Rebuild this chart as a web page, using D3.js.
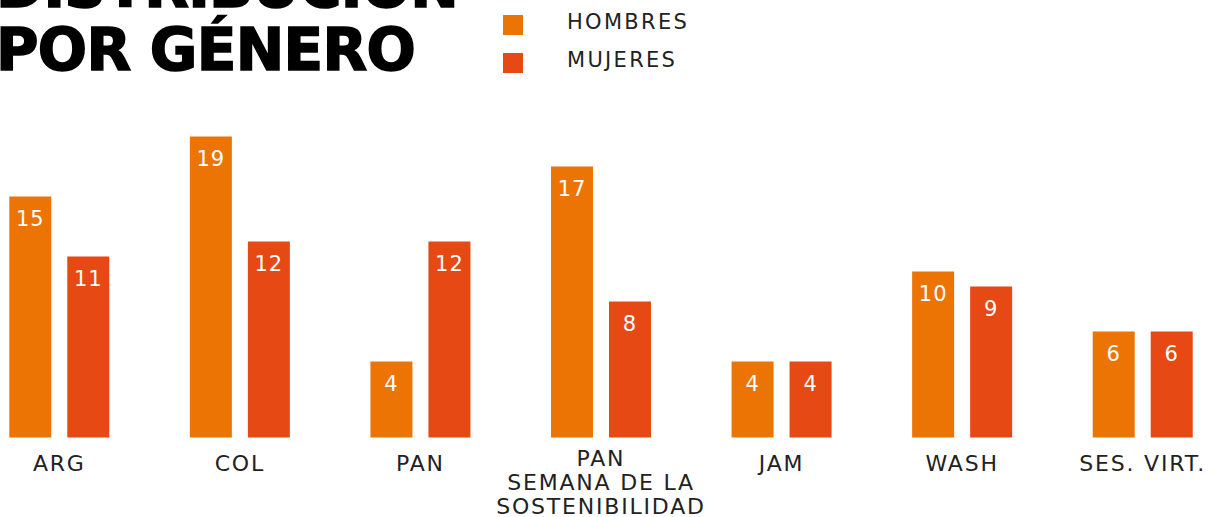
<!DOCTYPE html>
<html>
<head>
	<script src="https://cdn.jsdelivr.net/npm/d3@7"></script>
	<style>
		html, body {
			padding: 0;
			margin: 0;
			background: #ffffff;
		}
	</style>
</head>
<body>
	<script>
		// data
		var categories = ["ARG", "COL", "PAN", "PAN|SEMANA DE LA|SOSTENIBILIDAD", "JAM", "WASH", "SES. VIRT."];
		var hombres = [15, 19, 4, 17, 4, 10, 6];
		var mujeres = [11, 12, 12, 8, 4, 9, 6];
		var seriesNames = ["HOMBRES", "MUJERES"];
		var titleLines = ["DISTRIBUCIÓN", "POR GÉNERO"];

		var width = 1216, height = 517;
		var colors = {HOMBRES: "#ec7405", MUJERES: "#e64914"};
		var baseline = 437.5;

		var svg = d3.select("body").append("svg")
			.attr("width", width)
			.attr("height", height);

		//////// SCALES ////////
		var x = d3.scaleBand()
			.domain(categories)
			.range([-31, 1233])
			.padding(0);

		var xInner = d3.scaleBand()
			.domain(seriesNames)
			.range([-50, 50])
			.paddingInner(0.276)
			.paddingOuter(0);

		// the drawing isn't strictly proportional, so the scale keeps a small offset at zero
		var y = d3.scaleLinear()
			.domain([0, 20])
			.range([baseline - 16, baseline - 316]);

		//////// TITLE ////////
		svg.append("g").selectAll("text")
			.data(titleLines)
			.join("text")
			.attr("x", -4)
			.attr("y", function(d, i) { return 7 + i * 63; })
			.attr("font-family", "DejaVu Sans")
			.attr("font-weight", "bold")
			.attr("font-size", 58)
			.attr("letter-spacing", -0.7)
			.attr("fill", "#000")
			.attr("stroke", "#000")
			.attr("stroke-width", 1.6)
			.text(function(d) { return d; });

		//////// LEGEND ////////
		var legend = svg.append("g").selectAll("g")
			.data(seriesNames)
			.join("g")
			.attr("transform", function(d, i) { return "translate(503," + (15 + i * 38) + ")"; });

		legend.append("rect")
			.attr("width", 20)
			.attr("height", 20)
			.attr("fill", function(d) { return colors[d]; });

		legend.append("text")
			.attr("x", 64)
			.attr("y", 14)
			.attr("font-family", "DejaVu Sans")
			.attr("font-size", 21)
			.attr("letter-spacing", 2.3)
			.attr("fill", "#222")
			.text(function(d) { return d; });

		//////// BARS ////////
		var rows = categories.map(function(c, i) {
			return {cat: c, values: [
				{s: "HOMBRES", v: hombres[i]},
				{s: "MUJERES", v: mujeres[i]}
			]};
		});

		var groups = svg.append("g").selectAll("g")
			.data(rows)
			.join("g")
			.attr("transform", function(d) { return "translate(" + (x(d.cat) + x.bandwidth() / 2) + ",0)"; });

		groups.selectAll("rect")
			.data(function(d) { return d.values; })
			.join("rect")
			.attr("x", function(d) { return xInner(d.s); })
			.attr("y", function(d) { return y(d.v); })
			.attr("width", xInner.bandwidth())
			.attr("height", function(d) { return baseline - y(d.v); })
			.attr("fill", function(d) { return colors[d.s]; });

		groups.selectAll("text.val")
			.data(function(d) { return d.values; })
			.join("text")
			.attr("class", "val")
			.attr("x", function(d) { return xInner(d.s) + xInner.bandwidth() / 2; })
			.attr("y", function(d) { return y(d.v) + 29; })
			.attr("text-anchor", "middle")
			.attr("font-family", "DejaVu Sans")
			.attr("font-size", 21)
			.attr("letter-spacing", 1)
			.attr("fill", "#fff")
			.text(function(d) { return d.v; });

		// category labels, some on several lines
		groups.append("text")
			.attr("text-anchor", "middle")
			.attr("font-family", "DejaVu Sans")
			.attr("font-size", 22)
			.attr("letter-spacing", 1.8)
			.attr("fill", "#222")
			.each(function(d) {
				var lines = d.cat.split("|");
				var t = d3.select(this);
				lines.forEach(function(line, i) {
					t.append("tspan")
						.attr("x", 0)
						.attr("y", lines.length > 1 ? 466 + i * 24 : 471)
						.text(line);
				});
			});
	</script>
</body>
</html>
